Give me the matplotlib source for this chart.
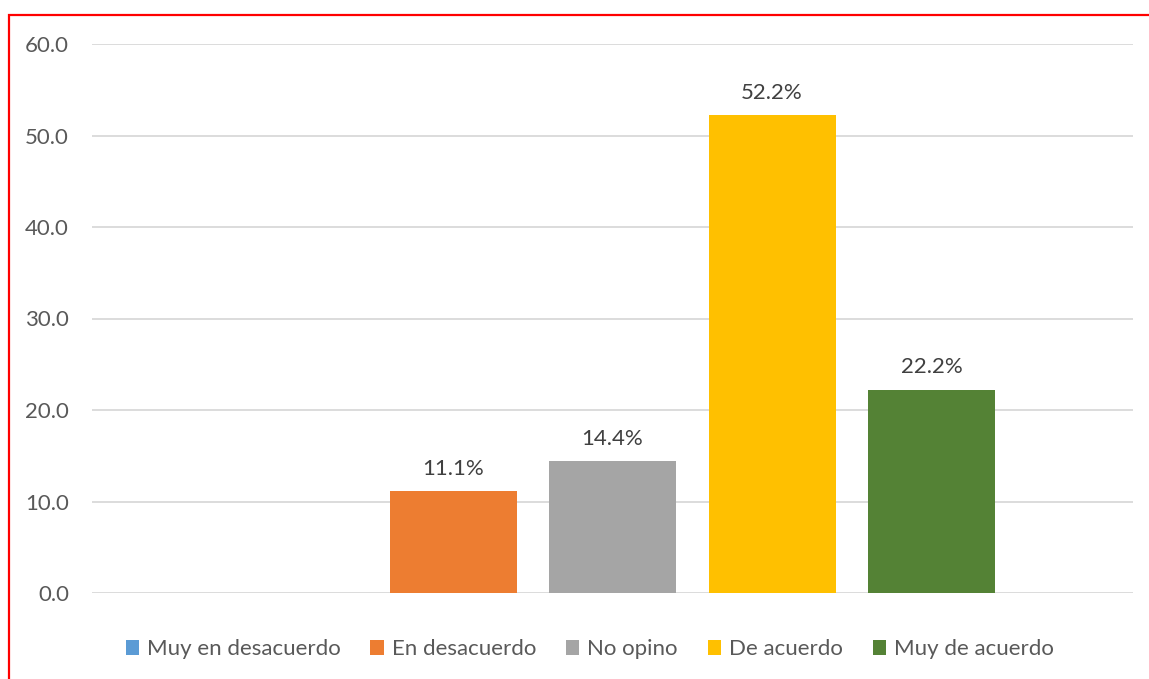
import matplotlib.pyplot as plt
from matplotlib.patches import Rectangle

categories = ['Muy en desacuerdo', 'En desacuerdo', 'No opino', 'De acuerdo', 'Muy de acuerdo']
values = [0.0, 11.1, 14.4, 52.2, 22.2]
labels = ['', '11.1%', '14.4%', '52.2%', '22.2%']
colors = ['#5B9BD5', '#ED7D31', '#A5A5A5', '#FFC000', '#548235']
yticks = [0, 10, 20, 30, 40, 50, 60]

plt.rcParams['font.family'] = ['Lato', 'DejaVu Sans']
W, H = 1149, 679
fig = plt.figure(figsize=(W / 100, H / 100), dpi=100)
ax = fig.add_axes([92 / W, 1 - 593 / H, (1133 - 92) / W, (593 - 44) / H])

step = 159.5 / 1041
width = 127 / 1041
for i, (cat, v, lab, c) in enumerate(zip(categories, values, labels, colors)):
    x = (i - 2) * step
    ax.bar(x, v, width=width, color=c, label=cat, zorder=3)
    if lab:
        ax.annotate(lab, (x, v), xytext=(0, 9), textcoords='offset points',
                    ha='center', va='bottom', fontsize=16, color='#404040')

ax.set_xlim(-0.5, 0.5)
ax.set_ylim(0, 60)
ax.set_yticks(yticks)
ax.set_yticklabels([f'{t:.1f}' for t in yticks], fontsize=16, color='#595959')
ax.set_xticks([])
ax.tick_params(axis='y', length=0, pad=16.5)
ax.grid(axis='y', color='#D9D9D9', linewidth=1.3, zorder=0)
for s in ax.spines.values():
    s.set_visible(False)

ax.legend(loc='upper center', bbox_to_anchor=(0.478, -0.048), ncol=5, frameon=False,
          fontsize=16, labelcolor='#595959', handlelength=0.6, handleheight=0.6,
          handletextpad=0.35, columnspacing=1.35)

# red frame around the chart (right and bottom run off the image)
fig.patches.append(Rectangle((9 / W, -0.1), 1.2, 1 - 15 / H + 0.1,
                             transform=fig.transFigure, fill=False,
                             edgecolor='#FF0000', linewidth=1.6))

fig.savefig('out.png', dpi=100)
